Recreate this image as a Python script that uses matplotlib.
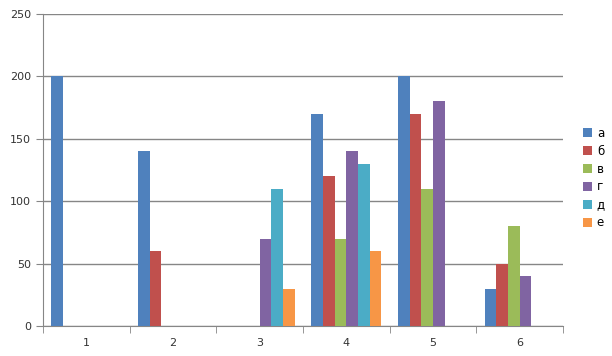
import numpy as np
import matplotlib.pyplot as plt

categories = ['1', '2', '3', '4', '5', '6']
series_names = ['а', 'б', 'в', 'г', 'д', 'е']
s_a = [200, 140, 0, 170, 200, 30]
s_b = [0, 60, 0, 120, 170, 50]
s_v = [0, 0, 0, 70, 110, 80]
s_g = [0, 0, 70, 140, 180, 40]
s_d = [0, 0, 110, 130, 0, 0]
s_e = [0, 0, 30, 60, 0, 0]
colors = ['#4F81BD', '#C0504D', '#9BBB59', '#8064A2', '#4BACC6', '#F79646']

fig = plt.figure(figsize=(6.12, 3.56), dpi=100)
ax = fig.add_axes([43 / 612, 30 / 356, 520 / 612, 312 / 356])

x = np.arange(len(categories))
width = 0.135
data = [s_a, s_b, s_v, s_g, s_d, s_e]
for i, (name, vals) in enumerate(zip(series_names, data)):
    ax.bar(x + (i - 2.5) * width, vals, width, color=colors[i], label=name, zorder=3)

ax.set_xlim(-0.5, len(categories) - 0.5)
ax.set_ylim(0, 250)
ax.set_yticks(range(0, 251, 50))
ax.set_xticks(x)
ax.set_xticklabels(categories)
ax.set_xticks(np.arange(-0.5, len(categories)), minor=True)
ax.tick_params(axis='x', which='major', length=0, pad=9, labelsize=8, colors='#333333')
ax.tick_params(axis='x', which='minor', length=5, color='#868686')
ax.tick_params(axis='y', length=5, color='#868686', labelsize=8, labelcolor='#333333')
ax.yaxis.grid(True, color='#868686', linewidth=1, zorder=0)
for s in ['top', 'right']:
    ax.spines[s].set_visible(False)
for s in ['left', 'bottom']:
    ax.spines[s].set_color('#868686')

fig.legend(loc='center left', bbox_to_anchor=(572 / 612, 178 / 356), frameon=False,
           fontsize=8.5, handlelength=0.8, handleheight=0.8, handletextpad=0.4, labelspacing=0.42)

fig.savefig('out.png', dpi=100)
